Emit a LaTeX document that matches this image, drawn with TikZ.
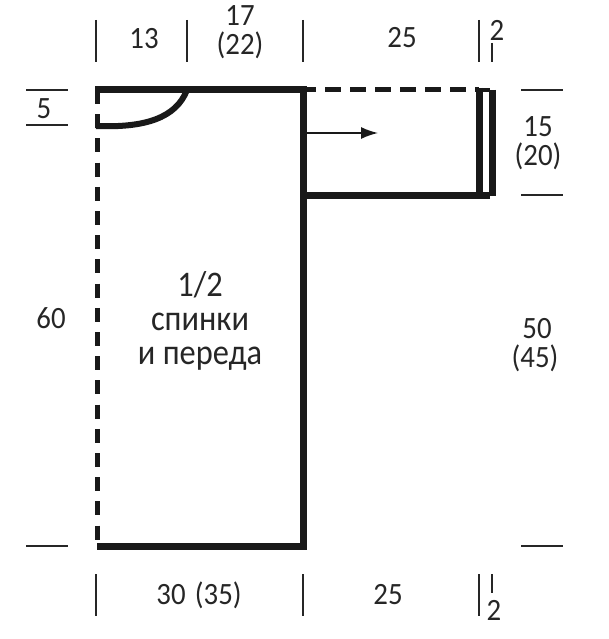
\documentclass[tikz,border=0pt]{standalone}
\usepackage{fontspec}
\setmainfont{Carlito}
\usetikzlibrary{arrows.meta}
\tikzset{
  size/.style = {inner sep=0pt, font=\fontsize{31}{31}\selectfont, text=black!85, xscale=.93, transform shape},
  title/.style = {inner sep=0pt, font=\fontsize{36}{36}\selectfont, text=black!85, xscale=.9, transform shape},
  thin mark/.style = {line width=1.7pt, black!85},
  seam/.style = {line width=7pt, black!90},
  fold/.style = {line width=5pt, black!90, dash pattern=on 14pt off 10.2pt},
}
\begin{document}
\begin{tikzpicture} [x=1pt, y=-1pt]
        \useasboundingbox (0,0) rectangle (608,639);

        % main outline
        \coordinate (nw) at (97,90);
        \coordinate (neck) at (187,90);
        \coordinate (ne) at (303,90);
        \coordinate (se) at (303,546);
        \coordinate (sw) at (97,546);
        \coordinate (throat) at (96,126);
        \coordinate (arm) at (303,195);
        \coordinate (cuffa) at (479,90);
        \coordinate (cuffb) at (479,195);
        \coordinate (cuffc) at (492.5,90);
        \coordinate (cuffd) at (492.5,196);
        \coordinate (arrowend) at (378,133);
        \coordinate (arrowstart) at (303,133);

        \draw [fold] (nw) -- (sw);
        \draw [fold, dash pattern=on 15.5pt off 9.5pt] (300,90) -- (cuffa);
        \draw [seam] (nw) ++(-2,0) -- (ne) -- (se) -- (sw);
        \draw [seam, line width=6pt] (throat) .. controls (145,128) and (176,118) .. (neck);
        \draw [seam] (arm) -- (490,195);
        \draw [seam] (cuffa) ++(0,-2) -- ++(0,105);
        \draw [seam] (cuffc) -- (cuffd);
        \draw [seam, line width=4.5pt] (476,90) -- (490,90);
        \draw [-{Latex[length=17pt,width=12pt]}, line width=1.6pt, black!90] (arrowstart) -- (arrowend);

        % top sizes
        \draw [thin mark] (96,20) -- (96,62);
        \draw [thin mark] (187,20) -- (187,62);
        \draw [thin mark] (303,20) -- (303,62);
        \draw [thin mark] (479,20) -- (479,62);
        \draw [thin mark] (492,43) -- (492,62);
        \node (top1) [size] at (144,39) {13};
        \node (top2) [size] at (240,16) {17};
        \node (top3) [size] at (240,45) {(22)};
        \node (top4) [size] at (402,38) {25};
        \node (top5) [size] at (497,30) {2};

        % left sizes
        \draw [thin mark] (26,90) -- (68,90);
        \draw [thin mark] (26,125) -- (68,125);
        \draw [thin mark] (26,546) -- (68,546);
        \node (left1) [size] at (44,109) {5};
        \node (left2) [size] at (51,318) {60};

        % right sizes
        \draw [thin mark] (521,90) -- (563,90);
        \draw [thin mark] (521,195) -- (563,195);
        \draw [thin mark] (521,546) -- (563,546);
        \node (right1) [size] at (538,127) {15};
        \node (right2) [size] at (538,156) {(20)};
        \node (right3) [size] at (537,329) {50};
        \node (right4) [size] at (535,358) {(45)};

        % bottom sizes
        \draw [thin mark] (96,574) -- (96,616);
        \draw [thin mark] (303,574) -- (303,616);
        \draw [thin mark] (479,574) -- (479,616);
        \draw [thin mark] (492,574) -- (492,593);
        \node (bot1) [size] at (199,595) {30\hspace{10pt}(35)};
        \node (bot2) [size] at (388,595) {25};
        \node (bot3) [size] at (494,610) {2};

        % title
        \node (name1) [title] at (200,285) {1/2};
        \node (name2) [title] at (200,322) {спинки};
        \node (name3) [title] at (200,359) {и переда};

    \end{tikzpicture}
\end{document}
